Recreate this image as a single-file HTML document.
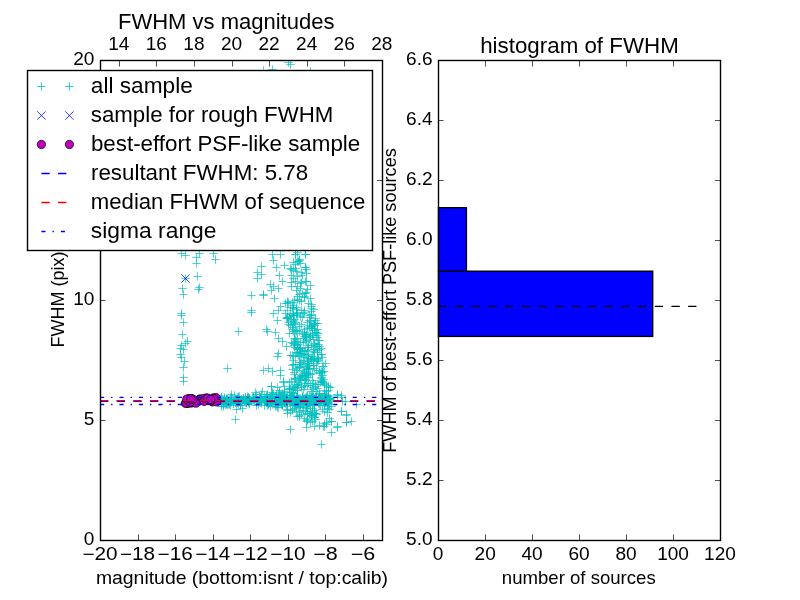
<!DOCTYPE html><html><head><meta charset="utf-8"><style>html,body{margin:0;padding:0;background:#fff;overflow:hidden}svg{display:block;will-change:transform}</style></head><body><svg width="800" height="600" viewBox="0 0 800 600"><rect x="0" y="0" width="800" height="600" fill="#fff"/>
<defs><clipPath id="c1"><rect x="100" y="60" width="282.5" height="480.5"/></clipPath><path id="pl" d="M-4.17 0H4.17M0 -4.17V4.17"/><path id="xm" d="M-4.17 -4.17L4.17 4.17M-4.17 4.17L4.17 -4.17"/></defs>
<g clip-path="url(#c1)">
<g stroke="#00bfbf" stroke-width="0.69" fill="none">
<use href="#pl" x="288.5" y="62.5"/>
<use href="#pl" x="290.5" y="64.5"/>
<use href="#pl" x="272.5" y="69.5"/>
<use href="#pl" x="263.5" y="70.5"/>
<use href="#pl" x="310.5" y="71.5"/>
<use href="#pl" x="181.5" y="253.5"/>
<use href="#pl" x="185.5" y="255.5"/>
<use href="#pl" x="199.5" y="253.5"/>
<use href="#pl" x="196.5" y="257.5"/>
<use href="#pl" x="196.5" y="263.5"/>
<use href="#pl" x="213.5" y="253.5"/>
<use href="#pl" x="215.5" y="259.5"/>
<use href="#pl" x="185.5" y="278.5"/>
<use href="#pl" x="197.5" y="276.5"/>
<use href="#pl" x="182.5" y="288.5"/>
<use href="#pl" x="183.5" y="294.5"/>
<use href="#pl" x="199.5" y="287.5"/>
<use href="#pl" x="198.5" y="289.5"/>
<use href="#pl" x="181.5" y="313.5"/>
<use href="#pl" x="181.5" y="315.5"/>
<use href="#pl" x="183.5" y="322.5"/>
<use href="#pl" x="182.5" y="334.5"/>
<use href="#pl" x="187.5" y="341.5"/>
<use href="#pl" x="185.5" y="343.5"/>
<use href="#pl" x="181.5" y="345.5"/>
<use href="#pl" x="180.5" y="348.5"/>
<use href="#pl" x="183.5" y="349.5"/>
<use href="#pl" x="180.5" y="354.5"/>
<use href="#pl" x="181.5" y="357.5"/>
<use href="#pl" x="184.5" y="361.5"/>
<use href="#pl" x="183.5" y="367.5"/>
<use href="#pl" x="183.5" y="377.5"/>
<use href="#pl" x="183.5" y="381.5"/>
<use href="#pl" x="238.5" y="331.5"/>
<use href="#pl" x="227.5" y="368.5"/>
<use href="#pl" x="242.5" y="408.5"/>
<use href="#pl" x="235.5" y="419.5"/>
<use href="#pl" x="251.5" y="295.5"/>
<use href="#pl" x="251.5" y="310.5"/>
<use href="#pl" x="251.5" y="312.5"/>
<use href="#pl" x="263.5" y="294.5"/>
<use href="#pl" x="263.5" y="295.5"/>
<use href="#pl" x="274.5" y="298.5"/>
<use href="#pl" x="261.5" y="266.5"/>
<use href="#pl" x="257.5" y="272.5"/>
<use href="#pl" x="261.5" y="274.5"/>
<use href="#pl" x="257.5" y="278.5"/>
<use href="#pl" x="272.5" y="254.5"/>
<use href="#pl" x="280.5" y="254.5"/>
<use href="#pl" x="273.5" y="260.5"/>
<use href="#pl" x="276.5" y="267.5"/>
<use href="#pl" x="284.5" y="265.5"/>
<use href="#pl" x="270.5" y="284.5"/>
<use href="#pl" x="273.5" y="286.5"/>
<use href="#pl" x="271.5" y="290.5"/>
<use href="#pl" x="279.5" y="275.5"/>
<use href="#pl" x="282.5" y="281.5"/>
<use href="#pl" x="278.5" y="288.5"/>
<use href="#pl" x="295.5" y="254.5"/>
<use href="#pl" x="305.5" y="254.5"/>
<use href="#pl" x="298.5" y="261.5"/>
<use href="#pl" x="305.5" y="267.5"/>
<use href="#pl" x="290.5" y="268.5"/>
<use href="#pl" x="295.5" y="254.5"/>
<use href="#pl" x="297.5" y="252.5"/>
<use href="#pl" x="305.5" y="254.5"/>
<use href="#pl" x="297.5" y="261.5"/>
<use href="#pl" x="300.5" y="263.5"/>
<use href="#pl" x="305.5" y="267.5"/>
<use href="#pl" x="295.5" y="268.5"/>
<use href="#pl" x="291.5" y="269.5"/>
<use href="#pl" x="296.5" y="271.5"/>
<use href="#pl" x="306.5" y="273.5"/>
<use href="#pl" x="302.5" y="275.5"/>
<use href="#pl" x="297.5" y="276.5"/>
<use href="#pl" x="293.5" y="278.5"/>
<use href="#pl" x="295.5" y="281.5"/>
<use href="#pl" x="305.5" y="281.5"/>
<use href="#pl" x="291.5" y="282.5"/>
<use href="#pl" x="300.5" y="283.5"/>
<use href="#pl" x="291.5" y="286.5"/>
<use href="#pl" x="297.5" y="286.5"/>
<use href="#pl" x="307.5" y="289.5"/>
<use href="#pl" x="296.5" y="290.5"/>
<use href="#pl" x="302.5" y="293.5"/>
<use href="#pl" x="306.5" y="292.5"/>
<use href="#pl" x="297.5" y="296.5"/>
<use href="#pl" x="310.5" y="298.5"/>
<use href="#pl" x="288.5" y="302.5"/>
<use href="#pl" x="294.5" y="300.5"/>
<use href="#pl" x="301.5" y="301.5"/>
<use href="#pl" x="308.5" y="303.5"/>
<use href="#pl" x="311.5" y="308.5"/>
<use href="#pl" x="280.5" y="306.5"/>
<use href="#pl" x="285.5" y="303.5"/>
<use href="#pl" x="273.5" y="313.5"/>
<use href="#pl" x="278.5" y="310.5"/>
<use href="#pl" x="285.5" y="313.5"/>
<use href="#pl" x="296.5" y="307.5"/>
<use href="#pl" x="301.5" y="310.5"/>
<use href="#pl" x="293.5" y="315.5"/>
<use href="#pl" x="303.5" y="313.5"/>
<use href="#pl" x="309.5" y="315.5"/>
<use href="#pl" x="287.5" y="317.5"/>
<use href="#pl" x="266.5" y="329.5"/>
<use href="#pl" x="267.5" y="331.5"/>
<use href="#pl" x="275.5" y="332.5"/>
<use href="#pl" x="277.5" y="320.5"/>
<use href="#pl" x="278.5" y="338.5"/>
<use href="#pl" x="282.5" y="341.5"/>
<use href="#pl" x="286.5" y="346.5"/>
<use href="#pl" x="278.5" y="353.5"/>
<use href="#pl" x="277.5" y="356.5"/>
<use href="#pl" x="263.5" y="370.5"/>
<use href="#pl" x="268.5" y="368.5"/>
<use href="#pl" x="272.5" y="371.5"/>
<use href="#pl" x="280.5" y="370.5"/>
<use href="#pl" x="280.5" y="375.5"/>
<use href="#pl" x="283.5" y="381.5"/>
<use href="#pl" x="271.5" y="386.5"/>
<use href="#pl" x="277.5" y="387.5"/>
<use href="#pl" x="290.5" y="355.5"/>
<use href="#pl" x="292.5" y="365.5"/>
<use href="#pl" x="288.5" y="324.5"/>
<use href="#pl" x="286.5" y="318.5"/>
<use href="#pl" x="317.5" y="323.5"/>
<use href="#pl" x="318.5" y="333.5"/>
<use href="#pl" x="321.5" y="348.5"/>
<use href="#pl" x="325.5" y="363.5"/>
<use href="#pl" x="323.5" y="366.5"/>
<use href="#pl" x="328.5" y="386.5"/>
<use href="#pl" x="321.5" y="380.5"/>
<use href="#pl" x="290.5" y="429.5"/>
<use href="#pl" x="306.5" y="427.5"/>
<use href="#pl" x="321.5" y="444.5"/>
<use href="#pl" x="331.5" y="432.5"/>
<use href="#pl" x="337.5" y="427.5"/>
<use href="#pl" x="331.5" y="421.5"/>
<use href="#pl" x="346.5" y="422.5"/>
<use href="#pl" x="341.5" y="411.5"/>
<use href="#pl" x="346.5" y="415.5"/>
<use href="#pl" x="341.5" y="395.5"/>
<use href="#pl" x="345.5" y="401.5"/>
<use href="#pl" x="337.5" y="394.5"/>
<use href="#pl" x="328.5" y="387.5"/>
<use href="#pl" x="283.5" y="382.5"/>
<use href="#pl" x="271.5" y="386.5"/>
<use href="#pl" x="255.5" y="392.5"/>
<use href="#pl" x="262.5" y="391.5"/>
<use href="#pl" x="287.5" y="413.5"/>
<use href="#pl" x="312.5" y="421.5"/>
<use href="#pl" x="323.5" y="426.5"/>
<use href="#pl" x="326.5" y="422.5"/>
<use href="#pl" x="330.5" y="387.5"/>
<use href="#pl" x="337.5" y="395.5"/>
<use href="#pl" x="341.5" y="397.5"/>
<use href="#pl" x="342.5" y="401.5"/>
<use href="#pl" x="356.5" y="404.5"/>
<use href="#pl" x="341.5" y="411.5"/>
<use href="#pl" x="346.5" y="414.5"/>
<use href="#pl" x="346.5" y="422.5"/>
<use href="#pl" x="351.5" y="421.5"/>
<use href="#pl" x="337.5" y="426.5"/>
<use href="#pl" x="331.5" y="421.5"/>
<use href="#pl" x="324.5" y="426.5"/>
<use href="#pl" x="299.5" y="259.5"/>
<use href="#pl" x="299.5" y="260.5"/>
<use href="#pl" x="293.5" y="262.5"/>
<use href="#pl" x="295.5" y="264.5"/>
<use href="#pl" x="306.5" y="269.5"/>
<use href="#pl" x="293.5" y="270.5"/>
<use href="#pl" x="301.5" y="272.5"/>
<use href="#pl" x="291.5" y="275.5"/>
<use href="#pl" x="306.5" y="281.5"/>
<use href="#pl" x="301.5" y="282.5"/>
<use href="#pl" x="310.5" y="285.5"/>
<use href="#pl" x="300.5" y="288.5"/>
<use href="#pl" x="305.5" y="293.5"/>
<use href="#pl" x="299.5" y="294.5"/>
<use href="#pl" x="304.5" y="296.5"/>
<use href="#pl" x="304.5" y="297.5"/>
<use href="#pl" x="297.5" y="299.5"/>
<use href="#pl" x="299.5" y="300.5"/>
<use href="#pl" x="287.5" y="301.5"/>
<use href="#pl" x="292.5" y="302.5"/>
<use href="#pl" x="287.5" y="303.5"/>
<use href="#pl" x="311.5" y="304.5"/>
<use href="#pl" x="293.5" y="305.5"/>
<use href="#pl" x="311.5" y="306.5"/>
<use href="#pl" x="290.5" y="307.5"/>
<use href="#pl" x="292.5" y="307.5"/>
<use href="#pl" x="293.5" y="308.5"/>
<use href="#pl" x="296.5" y="309.5"/>
<use href="#pl" x="313.5" y="309.5"/>
<use href="#pl" x="304.5" y="310.5"/>
<use href="#pl" x="287.5" y="310.5"/>
<use href="#pl" x="311.5" y="311.5"/>
<use href="#pl" x="297.5" y="312.5"/>
<use href="#pl" x="304.5" y="312.5"/>
<use href="#pl" x="292.5" y="313.5"/>
<use href="#pl" x="296.5" y="313.5"/>
<use href="#pl" x="290.5" y="314.5"/>
<use href="#pl" x="296.5" y="314.5"/>
<use href="#pl" x="311.5" y="314.5"/>
<use href="#pl" x="293.5" y="315.5"/>
<use href="#pl" x="297.5" y="315.5"/>
<use href="#pl" x="311.5" y="315.5"/>
<use href="#pl" x="300.5" y="316.5"/>
<use href="#pl" x="289.5" y="316.5"/>
<use href="#pl" x="310.5" y="317.5"/>
<use href="#pl" x="287.5" y="317.5"/>
<use href="#pl" x="302.5" y="317.5"/>
<use href="#pl" x="287.5" y="318.5"/>
<use href="#pl" x="315.5" y="318.5"/>
<use href="#pl" x="294.5" y="319.5"/>
<use href="#pl" x="291.5" y="319.5"/>
<use href="#pl" x="309.5" y="320.5"/>
<use href="#pl" x="293.5" y="320.5"/>
<use href="#pl" x="315.5" y="320.5"/>
<use href="#pl" x="310.5" y="321.5"/>
<use href="#pl" x="293.5" y="321.5"/>
<use href="#pl" x="288.5" y="322.5"/>
<use href="#pl" x="295.5" y="322.5"/>
<use href="#pl" x="307.5" y="322.5"/>
<use href="#pl" x="314.5" y="323.5"/>
<use href="#pl" x="315.5" y="323.5"/>
<use href="#pl" x="294.5" y="323.5"/>
<use href="#pl" x="293.5" y="324.5"/>
<use href="#pl" x="313.5" y="324.5"/>
<use href="#pl" x="301.5" y="324.5"/>
<use href="#pl" x="290.5" y="325.5"/>
<use href="#pl" x="314.5" y="325.5"/>
<use href="#pl" x="309.5" y="325.5"/>
<use href="#pl" x="311.5" y="326.5"/>
<use href="#pl" x="311.5" y="326.5"/>
<use href="#pl" x="299.5" y="326.5"/>
<use href="#pl" x="309.5" y="327.5"/>
<use href="#pl" x="292.5" y="327.5"/>
<use href="#pl" x="312.5" y="328.5"/>
<use href="#pl" x="312.5" y="328.5"/>
<use href="#pl" x="307.5" y="328.5"/>
<use href="#pl" x="292.5" y="329.5"/>
<use href="#pl" x="317.5" y="329.5"/>
<use href="#pl" x="304.5" y="329.5"/>
<use href="#pl" x="314.5" y="330.5"/>
<use href="#pl" x="295.5" y="330.5"/>
<use href="#pl" x="297.5" y="330.5"/>
<use href="#pl" x="296.5" y="331.5"/>
<use href="#pl" x="293.5" y="331.5"/>
<use href="#pl" x="299.5" y="331.5"/>
<use href="#pl" x="315.5" y="332.5"/>
<use href="#pl" x="316.5" y="332.5"/>
<use href="#pl" x="304.5" y="332.5"/>
<use href="#pl" x="302.5" y="333.5"/>
<use href="#pl" x="289.5" y="333.5"/>
<use href="#pl" x="294.5" y="333.5"/>
<use href="#pl" x="310.5" y="333.5"/>
<use href="#pl" x="304.5" y="334.5"/>
<use href="#pl" x="312.5" y="334.5"/>
<use href="#pl" x="306.5" y="334.5"/>
<use href="#pl" x="312.5" y="335.5"/>
<use href="#pl" x="306.5" y="335.5"/>
<use href="#pl" x="316.5" y="335.5"/>
<use href="#pl" x="304.5" y="336.5"/>
<use href="#pl" x="310.5" y="336.5"/>
<use href="#pl" x="305.5" y="336.5"/>
<use href="#pl" x="310.5" y="337.5"/>
<use href="#pl" x="317.5" y="337.5"/>
<use href="#pl" x="306.5" y="337.5"/>
<use href="#pl" x="294.5" y="338.5"/>
<use href="#pl" x="303.5" y="338.5"/>
<use href="#pl" x="297.5" y="338.5"/>
<use href="#pl" x="313.5" y="339.5"/>
<use href="#pl" x="295.5" y="339.5"/>
<use href="#pl" x="309.5" y="339.5"/>
<use href="#pl" x="319.5" y="340.5"/>
<use href="#pl" x="318.5" y="340.5"/>
<use href="#pl" x="305.5" y="340.5"/>
<use href="#pl" x="295.5" y="341.5"/>
<use href="#pl" x="306.5" y="341.5"/>
<use href="#pl" x="296.5" y="341.5"/>
<use href="#pl" x="291.5" y="342.5"/>
<use href="#pl" x="303.5" y="342.5"/>
<use href="#pl" x="300.5" y="342.5"/>
<use href="#pl" x="293.5" y="343.5"/>
<use href="#pl" x="314.5" y="343.5"/>
<use href="#pl" x="294.5" y="343.5"/>
<use href="#pl" x="314.5" y="344.5"/>
<use href="#pl" x="295.5" y="344.5"/>
<use href="#pl" x="318.5" y="344.5"/>
<use href="#pl" x="298.5" y="344.5"/>
<use href="#pl" x="308.5" y="345.5"/>
<use href="#pl" x="294.5" y="345.5"/>
<use href="#pl" x="311.5" y="345.5"/>
<use href="#pl" x="319.5" y="346.5"/>
<use href="#pl" x="315.5" y="346.5"/>
<use href="#pl" x="316.5" y="346.5"/>
<use href="#pl" x="317.5" y="346.5"/>
<use href="#pl" x="308.5" y="347.5"/>
<use href="#pl" x="299.5" y="347.5"/>
<use href="#pl" x="307.5" y="347.5"/>
<use href="#pl" x="294.5" y="347.5"/>
<use href="#pl" x="297.5" y="348.5"/>
<use href="#pl" x="300.5" y="348.5"/>
<use href="#pl" x="300.5" y="348.5"/>
<use href="#pl" x="297.5" y="348.5"/>
<use href="#pl" x="299.5" y="349.5"/>
<use href="#pl" x="313.5" y="349.5"/>
<use href="#pl" x="297.5" y="349.5"/>
<use href="#pl" x="319.5" y="349.5"/>
<use href="#pl" x="305.5" y="350.5"/>
<use href="#pl" x="317.5" y="350.5"/>
<use href="#pl" x="307.5" y="350.5"/>
<use href="#pl" x="302.5" y="351.5"/>
<use href="#pl" x="313.5" y="351.5"/>
<use href="#pl" x="304.5" y="351.5"/>
<use href="#pl" x="296.5" y="352.5"/>
<use href="#pl" x="314.5" y="352.5"/>
<use href="#pl" x="297.5" y="352.5"/>
<use href="#pl" x="317.5" y="352.5"/>
<use href="#pl" x="300.5" y="353.5"/>
<use href="#pl" x="301.5" y="353.5"/>
<use href="#pl" x="297.5" y="353.5"/>
<use href="#pl" x="321.5" y="354.5"/>
<use href="#pl" x="308.5" y="354.5"/>
<use href="#pl" x="321.5" y="354.5"/>
<use href="#pl" x="303.5" y="354.5"/>
<use href="#pl" x="306.5" y="355.5"/>
<use href="#pl" x="298.5" y="355.5"/>
<use href="#pl" x="292.5" y="355.5"/>
<use href="#pl" x="295.5" y="355.5"/>
<use href="#pl" x="293.5" y="356.5"/>
<use href="#pl" x="299.5" y="356.5"/>
<use href="#pl" x="308.5" y="356.5"/>
<use href="#pl" x="312.5" y="356.5"/>
<use href="#pl" x="304.5" y="357.5"/>
<use href="#pl" x="322.5" y="357.5"/>
<use href="#pl" x="314.5" y="357.5"/>
<use href="#pl" x="318.5" y="358.5"/>
<use href="#pl" x="311.5" y="358.5"/>
<use href="#pl" x="317.5" y="358.5"/>
<use href="#pl" x="308.5" y="358.5"/>
<use href="#pl" x="317.5" y="359.5"/>
<use href="#pl" x="310.5" y="359.5"/>
<use href="#pl" x="313.5" y="359.5"/>
<use href="#pl" x="293.5" y="360.5"/>
<use href="#pl" x="303.5" y="360.5"/>
<use href="#pl" x="318.5" y="360.5"/>
<use href="#pl" x="311.5" y="360.5"/>
<use href="#pl" x="307.5" y="361.5"/>
<use href="#pl" x="317.5" y="361.5"/>
<use href="#pl" x="308.5" y="361.5"/>
<use href="#pl" x="313.5" y="361.5"/>
<use href="#pl" x="300.5" y="362.5"/>
<use href="#pl" x="301.5" y="362.5"/>
<use href="#pl" x="299.5" y="362.5"/>
<use href="#pl" x="308.5" y="363.5"/>
<use href="#pl" x="307.5" y="363.5"/>
<use href="#pl" x="316.5" y="363.5"/>
<use href="#pl" x="295.5" y="364.5"/>
<use href="#pl" x="300.5" y="364.5"/>
<use href="#pl" x="302.5" y="364.5"/>
<use href="#pl" x="293.5" y="364.5"/>
<use href="#pl" x="313.5" y="365.5"/>
<use href="#pl" x="313.5" y="365.5"/>
<use href="#pl" x="309.5" y="365.5"/>
<use href="#pl" x="307.5" y="365.5"/>
<use href="#pl" x="299.5" y="366.5"/>
<use href="#pl" x="322.5" y="366.5"/>
<use href="#pl" x="307.5" y="366.5"/>
<use href="#pl" x="306.5" y="367.5"/>
<use href="#pl" x="299.5" y="367.5"/>
<use href="#pl" x="299.5" y="367.5"/>
<use href="#pl" x="309.5" y="368.5"/>
<use href="#pl" x="297.5" y="368.5"/>
<use href="#pl" x="308.5" y="368.5"/>
<use href="#pl" x="314.5" y="368.5"/>
<use href="#pl" x="308.5" y="369.5"/>
<use href="#pl" x="292.5" y="369.5"/>
<use href="#pl" x="306.5" y="369.5"/>
<use href="#pl" x="303.5" y="370.5"/>
<use href="#pl" x="319.5" y="370.5"/>
<use href="#pl" x="316.5" y="370.5"/>
<use href="#pl" x="296.5" y="370.5"/>
<use href="#pl" x="321.5" y="371.5"/>
<use href="#pl" x="304.5" y="371.5"/>
<use href="#pl" x="324.5" y="371.5"/>
<use href="#pl" x="306.5" y="372.5"/>
<use href="#pl" x="294.5" y="372.5"/>
<use href="#pl" x="319.5" y="372.5"/>
<use href="#pl" x="322.5" y="372.5"/>
<use href="#pl" x="308.5" y="373.5"/>
<use href="#pl" x="304.5" y="373.5"/>
<use href="#pl" x="320.5" y="373.5"/>
<use href="#pl" x="312.5" y="373.5"/>
<use href="#pl" x="310.5" y="374.5"/>
<use href="#pl" x="294.5" y="374.5"/>
<use href="#pl" x="306.5" y="374.5"/>
<use href="#pl" x="301.5" y="375.5"/>
<use href="#pl" x="322.5" y="375.5"/>
<use href="#pl" x="307.5" y="375.5"/>
<use href="#pl" x="302.5" y="375.5"/>
<use href="#pl" x="300.5" y="376.5"/>
<use href="#pl" x="302.5" y="376.5"/>
<use href="#pl" x="305.5" y="376.5"/>
<use href="#pl" x="299.5" y="377.5"/>
<use href="#pl" x="308.5" y="377.5"/>
<use href="#pl" x="321.5" y="377.5"/>
<use href="#pl" x="306.5" y="377.5"/>
<use href="#pl" x="295.5" y="378.5"/>
<use href="#pl" x="295.5" y="378.5"/>
<use href="#pl" x="300.5" y="378.5"/>
<use href="#pl" x="321.5" y="378.5"/>
<use href="#pl" x="305.5" y="379.5"/>
<use href="#pl" x="304.5" y="379.5"/>
<use href="#pl" x="294.5" y="379.5"/>
<use href="#pl" x="323.5" y="379.5"/>
<use href="#pl" x="312.5" y="380.5"/>
<use href="#pl" x="299.5" y="380.5"/>
<use href="#pl" x="300.5" y="380.5"/>
<use href="#pl" x="306.5" y="380.5"/>
<use href="#pl" x="321.5" y="381.5"/>
<use href="#pl" x="291.5" y="381.5"/>
<use href="#pl" x="322.5" y="381.5"/>
<use href="#pl" x="289.5" y="382.5"/>
<use href="#pl" x="323.5" y="382.5"/>
<use href="#pl" x="320.5" y="382.5"/>
<use href="#pl" x="298.5" y="382.5"/>
<use href="#pl" x="308.5" y="383.5"/>
<use href="#pl" x="324.5" y="383.5"/>
<use href="#pl" x="313.5" y="383.5"/>
<use href="#pl" x="305.5" y="383.5"/>
<use href="#pl" x="318.5" y="384.5"/>
<use href="#pl" x="324.5" y="384.5"/>
<use href="#pl" x="298.5" y="384.5"/>
<use href="#pl" x="296.5" y="384.5"/>
<use href="#pl" x="315.5" y="384.5"/>
<use href="#pl" x="307.5" y="385.5"/>
<use href="#pl" x="301.5" y="385.5"/>
<use href="#pl" x="310.5" y="385.5"/>
<use href="#pl" x="297.5" y="385.5"/>
<use href="#pl" x="326.5" y="385.5"/>
<use href="#pl" x="304.5" y="386.5"/>
<use href="#pl" x="294.5" y="386.5"/>
<use href="#pl" x="315.5" y="386.5"/>
<use href="#pl" x="284.5" y="386.5"/>
<use href="#pl" x="301.5" y="387.5"/>
<use href="#pl" x="313.5" y="387.5"/>
<use href="#pl" x="292.5" y="387.5"/>
<use href="#pl" x="297.5" y="387.5"/>
<use href="#pl" x="289.5" y="388.5"/>
<use href="#pl" x="317.5" y="388.5"/>
<use href="#pl" x="290.5" y="388.5"/>
<use href="#pl" x="295.5" y="388.5"/>
<use href="#pl" x="289.5" y="389.5"/>
<use href="#pl" x="293.5" y="389.5"/>
<use href="#pl" x="303.5" y="389.5"/>
<use href="#pl" x="289.5" y="389.5"/>
<use href="#pl" x="312.5" y="389.5"/>
<use href="#pl" x="297.5" y="390.5"/>
<use href="#pl" x="328.5" y="390.5"/>
<use href="#pl" x="279.5" y="390.5"/>
<use href="#pl" x="297.5" y="390.5"/>
<use href="#pl" x="324.5" y="390.5"/>
<use href="#pl" x="326.5" y="391.5"/>
<use href="#pl" x="284.5" y="391.5"/>
<use href="#pl" x="316.5" y="391.5"/>
<use href="#pl" x="311.5" y="391.5"/>
<use href="#pl" x="291.5" y="392.5"/>
<use href="#pl" x="272.5" y="392.5"/>
<use href="#pl" x="292.5" y="392.5"/>
<use href="#pl" x="279.5" y="392.5"/>
<use href="#pl" x="284.5" y="392.5"/>
<use href="#pl" x="319.5" y="393.5"/>
<use href="#pl" x="273.5" y="393.5"/>
<use href="#pl" x="293.5" y="393.5"/>
<use href="#pl" x="282.5" y="393.5"/>
<use href="#pl" x="324.5" y="393.5"/>
<use href="#pl" x="319.5" y="394.5"/>
<use href="#pl" x="271.5" y="394.5"/>
<use href="#pl" x="272.5" y="394.5"/>
<use href="#pl" x="284.5" y="394.5"/>
<use href="#pl" x="324.5" y="394.5"/>
<use href="#pl" x="328.5" y="395.5"/>
<use href="#pl" x="283.5" y="395.5"/>
<use href="#pl" x="287.5" y="395.5"/>
<use href="#pl" x="267.5" y="395.5"/>
<use href="#pl" x="325.5" y="395.5"/>
<use href="#pl" x="266.5" y="396.5"/>
<use href="#pl" x="296.5" y="396.5"/>
<use href="#pl" x="328.5" y="396.5"/>
<use href="#pl" x="281.5" y="396.5"/>
<use href="#pl" x="297.5" y="396.5"/>
<use href="#pl" x="318.5" y="397.5"/>
<use href="#pl" x="319.5" y="397.5"/>
<use href="#pl" x="305.5" y="397.5"/>
<use href="#pl" x="286.5" y="397.5"/>
<use href="#pl" x="316.5" y="397.5"/>
<use href="#pl" x="278.5" y="397.5"/>
<use href="#pl" x="270.5" y="398.5"/>
<use href="#pl" x="302.5" y="398.5"/>
<use href="#pl" x="329.5" y="398.5"/>
<use href="#pl" x="330.5" y="398.5"/>
<use href="#pl" x="271.5" y="398.5"/>
<use href="#pl" x="312.5" y="399.5"/>
<use href="#pl" x="281.5" y="399.5"/>
<use href="#pl" x="306.5" y="399.5"/>
<use href="#pl" x="314.5" y="399.5"/>
<use href="#pl" x="309.5" y="399.5"/>
<use href="#pl" x="286.5" y="400.5"/>
<use href="#pl" x="291.5" y="400.5"/>
<use href="#pl" x="280.5" y="400.5"/>
<use href="#pl" x="283.5" y="400.5"/>
<use href="#pl" x="323.5" y="400.5"/>
<use href="#pl" x="293.5" y="401.5"/>
<use href="#pl" x="300.5" y="401.5"/>
<use href="#pl" x="319.5" y="401.5"/>
<use href="#pl" x="330.5" y="401.5"/>
<use href="#pl" x="298.5" y="401.5"/>
<use href="#pl" x="325.5" y="402.5"/>
<use href="#pl" x="287.5" y="402.5"/>
<use href="#pl" x="280.5" y="402.5"/>
<use href="#pl" x="305.5" y="402.5"/>
<use href="#pl" x="291.5" y="402.5"/>
<use href="#pl" x="285.5" y="403.5"/>
<use href="#pl" x="327.5" y="403.5"/>
<use href="#pl" x="306.5" y="403.5"/>
<use href="#pl" x="282.5" y="403.5"/>
<use href="#pl" x="278.5" y="403.5"/>
<use href="#pl" x="306.5" y="404.5"/>
<use href="#pl" x="282.5" y="404.5"/>
<use href="#pl" x="290.5" y="404.5"/>
<use href="#pl" x="281.5" y="404.5"/>
<use href="#pl" x="282.5" y="404.5"/>
<use href="#pl" x="276.5" y="405.5"/>
<use href="#pl" x="295.5" y="405.5"/>
<use href="#pl" x="310.5" y="405.5"/>
<use href="#pl" x="282.5" y="405.5"/>
<use href="#pl" x="296.5" y="405.5"/>
<use href="#pl" x="328.5" y="406.5"/>
<use href="#pl" x="306.5" y="406.5"/>
<use href="#pl" x="298.5" y="406.5"/>
<use href="#pl" x="331.5" y="406.5"/>
<use href="#pl" x="286.5" y="406.5"/>
<use href="#pl" x="277.5" y="407.5"/>
<use href="#pl" x="300.5" y="407.5"/>
<use href="#pl" x="299.5" y="407.5"/>
<use href="#pl" x="302.5" y="407.5"/>
<use href="#pl" x="278.5" y="407.5"/>
<use href="#pl" x="327.5" y="408.5"/>
<use href="#pl" x="312.5" y="408.5"/>
<use href="#pl" x="306.5" y="408.5"/>
<use href="#pl" x="294.5" y="408.5"/>
<use href="#pl" x="287.5" y="409.5"/>
<use href="#pl" x="322.5" y="409.5"/>
<use href="#pl" x="292.5" y="409.5"/>
<use href="#pl" x="329.5" y="409.5"/>
<use href="#pl" x="287.5" y="410.5"/>
<use href="#pl" x="303.5" y="410.5"/>
<use href="#pl" x="314.5" y="410.5"/>
<use href="#pl" x="292.5" y="410.5"/>
<use href="#pl" x="305.5" y="411.5"/>
<use href="#pl" x="324.5" y="411.5"/>
<use href="#pl" x="296.5" y="411.5"/>
<use href="#pl" x="310.5" y="411.5"/>
<use href="#pl" x="299.5" y="412.5"/>
<use href="#pl" x="327.5" y="412.5"/>
<use href="#pl" x="312.5" y="412.5"/>
<use href="#pl" x="290.5" y="412.5"/>
<use href="#pl" x="315.5" y="413.5"/>
<use href="#pl" x="316.5" y="413.5"/>
<use href="#pl" x="307.5" y="413.5"/>
<use href="#pl" x="307.5" y="413.5"/>
<use href="#pl" x="309.5" y="414.5"/>
<use href="#pl" x="316.5" y="414.5"/>
<use href="#pl" x="301.5" y="414.5"/>
<use href="#pl" x="311.5" y="415.5"/>
<use href="#pl" x="311.5" y="415.5"/>
<use href="#pl" x="299.5" y="415.5"/>
<use href="#pl" x="311.5" y="416.5"/>
<use href="#pl" x="297.5" y="416.5"/>
<use href="#pl" x="299.5" y="416.5"/>
<use href="#pl" x="314.5" y="417.5"/>
<use href="#pl" x="314.5" y="417.5"/>
<use href="#pl" x="304.5" y="418.5"/>
<use href="#pl" x="329.5" y="418.5"/>
<use href="#pl" x="307.5" y="419.5"/>
<use href="#pl" x="315.5" y="419.5"/>
<use href="#pl" x="307.5" y="420.5"/>
<use href="#pl" x="306.5" y="421.5"/>
<use href="#pl" x="310.5" y="422.5"/>
<use href="#pl" x="324.5" y="423.5"/>
<use href="#pl" x="326.5" y="424.5"/>
<use href="#pl" x="319.5" y="425.5"/>
<use href="#pl" x="314.5" y="426.5"/>
<use href="#pl" x="238.5" y="400.5"/>
<use href="#pl" x="278.5" y="399.5"/>
<use href="#pl" x="290.5" y="397.5"/>
<use href="#pl" x="281.5" y="404.5"/>
<use href="#pl" x="284.5" y="401.5"/>
<use href="#pl" x="330.5" y="399.5"/>
<use href="#pl" x="289.5" y="396.5"/>
<use href="#pl" x="249.5" y="403.5"/>
<use href="#pl" x="329.5" y="398.5"/>
<use href="#pl" x="304.5" y="399.5"/>
<use href="#pl" x="269.5" y="402.5"/>
<use href="#pl" x="225.5" y="404.5"/>
<use href="#pl" x="311.5" y="400.5"/>
<use href="#pl" x="329.5" y="404.5"/>
<use href="#pl" x="285.5" y="399.5"/>
<use href="#pl" x="220.5" y="398.5"/>
<use href="#pl" x="223.5" y="402.5"/>
<use href="#pl" x="268.5" y="403.5"/>
<use href="#pl" x="276.5" y="401.5"/>
<use href="#pl" x="245.5" y="399.5"/>
<use href="#pl" x="292.5" y="400.5"/>
<use href="#pl" x="259.5" y="400.5"/>
<use href="#pl" x="231.5" y="399.5"/>
<use href="#pl" x="284.5" y="402.5"/>
<use href="#pl" x="285.5" y="401.5"/>
<use href="#pl" x="272.5" y="404.5"/>
<use href="#pl" x="235.5" y="402.5"/>
<use href="#pl" x="236.5" y="399.5"/>
<use href="#pl" x="230.5" y="397.5"/>
<use href="#pl" x="306.5" y="396.5"/>
<use href="#pl" x="264.5" y="400.5"/>
<use href="#pl" x="291.5" y="401.5"/>
<use href="#pl" x="282.5" y="398.5"/>
<use href="#pl" x="269.5" y="403.5"/>
<use href="#pl" x="324.5" y="400.5"/>
<use href="#pl" x="320.5" y="398.5"/>
<use href="#pl" x="224.5" y="397.5"/>
<use href="#pl" x="246.5" y="400.5"/>
<use href="#pl" x="226.5" y="400.5"/>
<use href="#pl" x="281.5" y="400.5"/>
<use href="#pl" x="324.5" y="401.5"/>
<use href="#pl" x="287.5" y="402.5"/>
<use href="#pl" x="276.5" y="397.5"/>
<use href="#pl" x="239.5" y="396.5"/>
<use href="#pl" x="254.5" y="400.5"/>
<use href="#pl" x="318.5" y="401.5"/>
<use href="#pl" x="306.5" y="400.5"/>
<use href="#pl" x="313.5" y="400.5"/>
<use href="#pl" x="302.5" y="396.5"/>
<use href="#pl" x="270.5" y="401.5"/>
<use href="#pl" x="245.5" y="402.5"/>
<use href="#pl" x="224.5" y="401.5"/>
<use href="#pl" x="257.5" y="400.5"/>
<use href="#pl" x="313.5" y="396.5"/>
<use href="#pl" x="299.5" y="400.5"/>
<use href="#pl" x="268.5" y="404.5"/>
<use href="#pl" x="307.5" y="398.5"/>
<use href="#pl" x="291.5" y="400.5"/>
<use href="#pl" x="327.5" y="401.5"/>
<use href="#pl" x="221.5" y="406.5"/>
<use href="#pl" x="248.5" y="401.5"/>
<use href="#pl" x="324.5" y="405.5"/>
<use href="#pl" x="302.5" y="398.5"/>
<use href="#pl" x="256.5" y="405.5"/>
<use href="#pl" x="246.5" y="403.5"/>
<use href="#pl" x="296.5" y="398.5"/>
<use href="#pl" x="293.5" y="403.5"/>
<use href="#pl" x="313.5" y="400.5"/>
<use href="#pl" x="297.5" y="402.5"/>
<use href="#pl" x="300.5" y="398.5"/>
<use href="#pl" x="283.5" y="399.5"/>
<use href="#pl" x="289.5" y="402.5"/>
<use href="#pl" x="228.5" y="401.5"/>
<use href="#pl" x="223.5" y="399.5"/>
<use href="#pl" x="231.5" y="402.5"/>
<use href="#pl" x="235.5" y="399.5"/>
<use href="#pl" x="223.5" y="404.5"/>
<use href="#pl" x="290.5" y="401.5"/>
<use href="#pl" x="297.5" y="400.5"/>
<use href="#pl" x="285.5" y="399.5"/>
<use href="#pl" x="260.5" y="402.5"/>
<use href="#pl" x="318.5" y="396.5"/>
<use href="#pl" x="227.5" y="404.5"/>
<use href="#pl" x="324.5" y="396.5"/>
<use href="#pl" x="231.5" y="401.5"/>
<use href="#pl" x="223.5" y="401.5"/>
<use href="#pl" x="314.5" y="402.5"/>
<use href="#pl" x="311.5" y="397.5"/>
<use href="#pl" x="290.5" y="400.5"/>
<use href="#pl" x="230.5" y="401.5"/>
<use href="#pl" x="304.5" y="401.5"/>
<use href="#pl" x="267.5" y="402.5"/>
<use href="#pl" x="222.5" y="400.5"/>
<use href="#pl" x="299.5" y="402.5"/>
<use href="#pl" x="260.5" y="397.5"/>
<use href="#pl" x="275.5" y="406.5"/>
<use href="#pl" x="314.5" y="400.5"/>
<use href="#pl" x="265.5" y="400.5"/>
<use href="#pl" x="268.5" y="401.5"/>
<use href="#pl" x="298.5" y="398.5"/>
<use href="#pl" x="279.5" y="401.5"/>
<use href="#pl" x="230.5" y="405.5"/>
<use href="#pl" x="311.5" y="400.5"/>
<use href="#pl" x="242.5" y="400.5"/>
<use href="#pl" x="304.5" y="400.5"/>
<use href="#pl" x="274.5" y="400.5"/>
<use href="#pl" x="274.5" y="401.5"/>
<use href="#pl" x="274.5" y="398.5"/>
<use href="#pl" x="258.5" y="401.5"/>
<use href="#pl" x="324.5" y="398.5"/>
<use href="#pl" x="251.5" y="401.5"/>
<use href="#pl" x="275.5" y="404.5"/>
<use href="#pl" x="232.5" y="399.5"/>
<use href="#pl" x="307.5" y="399.5"/>
<use href="#pl" x="297.5" y="401.5"/>
<use href="#pl" x="259.5" y="396.5"/>
<use href="#pl" x="264.5" y="396.5"/>
<use href="#pl" x="229.5" y="404.5"/>
<use href="#pl" x="318.5" y="402.5"/>
<use href="#pl" x="249.5" y="400.5"/>
<use href="#pl" x="320.5" y="398.5"/>
<use href="#pl" x="318.5" y="400.5"/>
<use href="#pl" x="245.5" y="397.5"/>
<use href="#pl" x="303.5" y="401.5"/>
<use href="#pl" x="303.5" y="399.5"/>
<use href="#pl" x="256.5" y="398.5"/>
<use href="#pl" x="237.5" y="402.5"/>
<use href="#pl" x="302.5" y="397.5"/>
<use href="#pl" x="238.5" y="396.5"/>
<use href="#pl" x="284.5" y="402.5"/>
<use href="#pl" x="234.5" y="395.5"/>
<use href="#pl" x="246.5" y="401.5"/>
<use href="#pl" x="241.5" y="399.5"/>
<use href="#pl" x="313.5" y="404.5"/>
<use href="#pl" x="237.5" y="401.5"/>
<use href="#pl" x="256.5" y="402.5"/>
<use href="#pl" x="278.5" y="401.5"/>
<use href="#pl" x="241.5" y="402.5"/>
<use href="#pl" x="328.5" y="400.5"/>
<use href="#pl" x="326.5" y="399.5"/>
<use href="#pl" x="231.5" y="394.5"/>
<use href="#pl" x="308.5" y="405.5"/>
<use href="#pl" x="301.5" y="399.5"/>
<use href="#pl" x="290.5" y="401.5"/>
<use href="#pl" x="231.5" y="401.5"/>
<use href="#pl" x="223.5" y="403.5"/>
<use href="#pl" x="264.5" y="401.5"/>
<use href="#pl" x="275.5" y="396.5"/>
<use href="#pl" x="290.5" y="399.5"/>
<use href="#pl" x="287.5" y="400.5"/>
<use href="#pl" x="264.5" y="400.5"/>
<use href="#pl" x="267.5" y="394.5"/>
<use href="#pl" x="283.5" y="400.5"/>
<use href="#pl" x="245.5" y="397.5"/>
<use href="#pl" x="300.5" y="404.5"/>
<use href="#pl" x="297.5" y="397.5"/>
<use href="#pl" x="314.5" y="398.5"/>
<use href="#pl" x="270.5" y="397.5"/>
<use href="#pl" x="254.5" y="399.5"/>
<use href="#pl" x="266.5" y="399.5"/>
<use href="#pl" x="306.5" y="399.5"/>
<use href="#pl" x="247.5" y="396.5"/>
<use href="#pl" x="267.5" y="397.5"/>
<use href="#pl" x="265.5" y="401.5"/>
<use href="#pl" x="295.5" y="402.5"/>
<use href="#pl" x="292.5" y="399.5"/>
<use href="#pl" x="306.5" y="398.5"/>
<use href="#pl" x="328.5" y="402.5"/>
<use href="#pl" x="224.5" y="399.5"/>
<use href="#pl" x="306.5" y="400.5"/>
<use href="#pl" x="324.5" y="399.5"/>
<use href="#pl" x="283.5" y="400.5"/>
<use href="#pl" x="280.5" y="399.5"/>
<use href="#pl" x="291.5" y="397.5"/>
<use href="#pl" x="312.5" y="397.5"/>
<use href="#pl" x="325.5" y="400.5"/>
<use href="#pl" x="243.5" y="399.5"/>
<use href="#pl" x="304.5" y="398.5"/>
<use href="#pl" x="233.5" y="403.5"/>
<use href="#pl" x="226.5" y="400.5"/>
<use href="#pl" x="250.5" y="400.5"/>
<use href="#pl" x="266.5" y="400.5"/>
<use href="#pl" x="266.5" y="399.5"/>
<use href="#pl" x="249.5" y="398.5"/>
<use href="#pl" x="244.5" y="400.5"/>
<use href="#pl" x="278.5" y="394.5"/>
<use href="#pl" x="244.5" y="401.5"/>
<use href="#pl" x="243.5" y="398.5"/>
<use href="#pl" x="234.5" y="401.5"/>
<use href="#pl" x="290.5" y="395.5"/>
<use href="#pl" x="272.5" y="398.5"/>
<use href="#pl" x="327.5" y="399.5"/>
<use href="#pl" x="259.5" y="397.5"/>
<use href="#pl" x="310.5" y="396.5"/>
<use href="#pl" x="272.5" y="399.5"/>
<use href="#pl" x="233.5" y="403.5"/>
<use href="#pl" x="312.5" y="397.5"/>
<use href="#pl" x="249.5" y="404.5"/>
<use href="#pl" x="261.5" y="400.5"/>
<use href="#pl" x="240.5" y="403.5"/>
<use href="#pl" x="220.5" y="400.5"/>
<use href="#pl" x="247.5" y="398.5"/>
<use href="#pl" x="253.5" y="397.5"/>
<use href="#pl" x="290.5" y="401.5"/>
<use href="#pl" x="293.5" y="396.5"/>
<use href="#pl" x="314.5" y="405.5"/>
<use href="#pl" x="226.5" y="403.5"/>
<use href="#pl" x="307.5" y="395.5"/>
<use href="#pl" x="235.5" y="402.5"/>
<use href="#pl" x="221.5" y="397.5"/>
<use href="#pl" x="221.5" y="404.5"/>
<use href="#pl" x="247.5" y="399.5"/>
<use href="#pl" x="231.5" y="401.5"/>
<use href="#pl" x="306.5" y="402.5"/>
<use href="#pl" x="258.5" y="404.5"/>
<use href="#pl" x="307.5" y="405.5"/>
<use href="#pl" x="238.5" y="403.5"/>
<use href="#pl" x="306.5" y="398.5"/>
<use href="#pl" x="294.5" y="404.5"/>
<use href="#pl" x="313.5" y="397.5"/>
<use href="#pl" x="241.5" y="399.5"/>
<use href="#pl" x="302.5" y="397.5"/>
<use href="#pl" x="268.5" y="403.5"/>
<use href="#pl" x="249.5" y="398.5"/>
<use href="#pl" x="246.5" y="402.5"/>
<use href="#pl" x="226.5" y="403.5"/>
<use href="#pl" x="271.5" y="402.5"/>
<use href="#pl" x="275.5" y="403.5"/>
<use href="#pl" x="279.5" y="400.5"/>
<use href="#pl" x="313.5" y="400.5"/>
<use href="#pl" x="271.5" y="396.5"/>
<use href="#pl" x="313.5" y="399.5"/>
<use href="#pl" x="261.5" y="394.5"/>
<use href="#pl" x="228.5" y="404.5"/>
<use href="#pl" x="290.5" y="400.5"/>
<use href="#pl" x="287.5" y="400.5"/>
<use href="#pl" x="295.5" y="402.5"/>
<use href="#pl" x="329.5" y="399.5"/>
<use href="#pl" x="276.5" y="394.5"/>
<use href="#pl" x="223.5" y="401.5"/>
<use href="#pl" x="299.5" y="398.5"/>
<use href="#pl" x="315.5" y="398.5"/>
<use href="#pl" x="260.5" y="397.5"/>
<use href="#pl" x="305.5" y="401.5"/>
<use href="#pl" x="243.5" y="398.5"/>
<use href="#pl" x="281.5" y="401.5"/>
<use href="#pl" x="311.5" y="399.5"/>
<use href="#pl" x="264.5" y="405.5"/>
<use href="#pl" x="275.5" y="400.5"/>
<use href="#pl" x="328.5" y="403.5"/>
<use href="#pl" x="292.5" y="401.5"/>
<use href="#pl" x="255.5" y="398.5"/>
<use href="#pl" x="253.5" y="397.5"/>
<use href="#pl" x="307.5" y="398.5"/>
<use href="#pl" x="224.5" y="399.5"/>
<use href="#pl" x="280.5" y="395.5"/>
<use href="#pl" x="225.5" y="400.5"/>
<use href="#pl" x="241.5" y="400.5"/>
<use href="#pl" x="322.5" y="397.5"/>
<use href="#pl" x="307.5" y="398.5"/>
<use href="#pl" x="321.5" y="397.5"/>
<use href="#pl" x="289.5" y="398.5"/>
<use href="#pl" x="297.5" y="397.5"/>
<use href="#pl" x="243.5" y="398.5"/>
<use href="#pl" x="294.5" y="396.5"/>
<use href="#pl" x="231.5" y="401.5"/>
<use href="#pl" x="240.5" y="405.5"/>
<use href="#pl" x="321.5" y="401.5"/>
<use href="#pl" x="292.5" y="397.5"/>
<use href="#pl" x="307.5" y="404.5"/>
<use href="#pl" x="282.5" y="400.5"/>
<use href="#pl" x="266.5" y="402.5"/>
<use href="#pl" x="255.5" y="397.5"/>
<use href="#pl" x="323.5" y="402.5"/>
<use href="#pl" x="226.5" y="399.5"/>
<use href="#pl" x="233.5" y="400.5"/>
<use href="#pl" x="309.5" y="395.5"/>
<use href="#pl" x="269.5" y="397.5"/>
<use href="#pl" x="221.5" y="397.5"/>
<use href="#pl" x="324.5" y="403.5"/>
<use href="#pl" x="328.5" y="397.5"/>
<use href="#pl" x="231.5" y="401.5"/>
<use href="#pl" x="291.5" y="401.5"/>
<use href="#pl" x="221.5" y="402.5"/>
<use href="#pl" x="220.5" y="400.5"/>
<use href="#pl" x="327.5" y="399.5"/>
<use href="#pl" x="229.5" y="401.5"/>
<use href="#pl" x="222.5" y="399.5"/>
<use href="#pl" x="299.5" y="400.5"/>
<use href="#pl" x="240.5" y="405.5"/>
<use href="#pl" x="225.5" y="401.5"/>
<use href="#pl" x="315.5" y="396.5"/>
<use href="#pl" x="301.5" y="403.5"/>
<use href="#pl" x="298.5" y="402.5"/>
<use href="#pl" x="271.5" y="402.5"/>
<use href="#pl" x="327.5" y="399.5"/>
<use href="#pl" x="299.5" y="401.5"/>
<use href="#pl" x="292.5" y="400.5"/>
<use href="#pl" x="310.5" y="402.5"/>
<use href="#pl" x="301.5" y="401.5"/>
<use href="#pl" x="238.5" y="402.5"/>
<use href="#pl" x="226.5" y="398.5"/>
<use href="#pl" x="260.5" y="398.5"/>
<use href="#pl" x="295.5" y="399.5"/>
<use href="#pl" x="236.5" y="401.5"/>
<use href="#pl" x="291.5" y="398.5"/>
<use href="#pl" x="289.5" y="398.5"/>
<use href="#pl" x="307.5" y="401.5"/>
<use href="#pl" x="324.5" y="401.5"/>
<use href="#pl" x="252.5" y="397.5"/>
<use href="#pl" x="226.5" y="404.5"/>
<use href="#pl" x="311.5" y="399.5"/>
<use href="#pl" x="256.5" y="394.5"/>
<use href="#pl" x="312.5" y="396.5"/>
<use href="#pl" x="286.5" y="399.5"/>
<use href="#pl" x="318.5" y="403.5"/>
<use href="#pl" x="261.5" y="399.5"/>
<use href="#pl" x="319.5" y="397.5"/>
<use href="#pl" x="309.5" y="400.5"/>
<use href="#pl" x="249.5" y="400.5"/>
<use href="#pl" x="266.5" y="396.5"/>
<use href="#pl" x="318.5" y="398.5"/>
<use href="#pl" x="224.5" y="403.5"/>
<use href="#pl" x="316.5" y="396.5"/>
<use href="#pl" x="283.5" y="399.5"/>
<use href="#pl" x="309.5" y="405.5"/>
<use href="#pl" x="296.5" y="402.5"/>
<use href="#pl" x="229.5" y="399.5"/>
<use href="#pl" x="281.5" y="401.5"/>
<use href="#pl" x="303.5" y="398.5"/>
<use href="#pl" x="323.5" y="401.5"/>
<use href="#pl" x="295.5" y="404.5"/>
<use href="#pl" x="271.5" y="401.5"/>
<use href="#pl" x="303.5" y="402.5"/>
<use href="#pl" x="307.5" y="399.5"/>
<use href="#pl" x="309.5" y="400.5"/>
<use href="#pl" x="305.5" y="401.5"/>
<use href="#pl" x="319.5" y="404.5"/>
<use href="#pl" x="318.5" y="397.5"/>
<use href="#pl" x="285.5" y="400.5"/>
<use href="#pl" x="241.5" y="401.5"/>
<use href="#pl" x="297.5" y="402.5"/>
<use href="#pl" x="260.5" y="398.5"/>
<use href="#pl" x="277.5" y="399.5"/>
<use href="#pl" x="236.5" y="409.5"/>
<use href="#pl" x="261.5" y="403.5"/>
<use href="#pl" x="231.5" y="397.5"/>
<use href="#pl" x="237.5" y="397.5"/>
<use href="#pl" x="286.5" y="398.5"/>
<use href="#pl" x="222.5" y="403.5"/>
<use href="#pl" x="223.5" y="406.5"/>
<use href="#pl" x="274.5" y="400.5"/>
<use href="#pl" x="283.5" y="400.5"/>
<use href="#pl" x="267.5" y="405.5"/>
<use href="#pl" x="325.5" y="401.5"/>
<use href="#pl" x="326.5" y="395.5"/>
<use href="#pl" x="248.5" y="402.5"/>
<use href="#pl" x="240.5" y="401.5"/>
<use href="#pl" x="229.5" y="403.5"/>
<use href="#pl" x="316.5" y="401.5"/>
<use href="#pl" x="270.5" y="406.5"/>
<use href="#pl" x="227.5" y="398.5"/>
<use href="#pl" x="286.5" y="399.5"/>
<use href="#pl" x="326.5" y="401.5"/>
<use href="#pl" x="248.5" y="397.5"/>
<use href="#pl" x="326.5" y="399.5"/>
<use href="#pl" x="294.5" y="398.5"/>
<use href="#pl" x="237.5" y="402.5"/>
<use href="#pl" x="327.5" y="402.5"/>
<use href="#pl" x="224.5" y="400.5"/>
<use href="#pl" x="248.5" y="397.5"/>
<use href="#pl" x="320.5" y="405.5"/>
<use href="#pl" x="312.5" y="405.5"/>
<use href="#pl" x="298.5" y="402.5"/>
<use href="#pl" x="291.5" y="401.5"/>
<use href="#pl" x="236.5" y="400.5"/>
<use href="#pl" x="303.5" y="404.5"/>
<use href="#pl" x="253.5" y="399.5"/>
<use href="#pl" x="285.5" y="400.5"/>
<use href="#pl" x="256.5" y="399.5"/>
</g>
<g stroke="#0000ff" stroke-width="0.75" fill="none">
<use href="#xm" x="185.5" y="278.5"/>
</g>
<g stroke="#000" stroke-width="0.69" fill="#bf00bf">
<circle cx="192.6" cy="399.1" r="4.17"/>
<circle cx="199.9" cy="399.0" r="4.17"/>
<circle cx="192.0" cy="399.2" r="4.17"/>
<circle cx="206.3" cy="398.0" r="4.17"/>
<circle cx="207.6" cy="398.8" r="4.17"/>
<circle cx="185.4" cy="403.2" r="4.17"/>
<circle cx="191.4" cy="403.0" r="4.17"/>
<circle cx="212.5" cy="401.9" r="4.17"/>
<circle cx="188.8" cy="400.8" r="4.17"/>
<circle cx="187.4" cy="403.1" r="4.17"/>
<circle cx="211.7" cy="400.7" r="4.17"/>
<circle cx="198.9" cy="399.8" r="4.17"/>
<circle cx="211.0" cy="400.0" r="4.17"/>
<circle cx="204.7" cy="398.7" r="4.17"/>
<circle cx="191.4" cy="398.8" r="4.17"/>
<circle cx="207.5" cy="400.5" r="4.17"/>
<circle cx="188.9" cy="402.8" r="4.17"/>
<circle cx="192.9" cy="400.4" r="4.17"/>
<circle cx="189.3" cy="399.9" r="4.17"/>
<circle cx="211.6" cy="399.3" r="4.17"/>
<circle cx="189.7" cy="400.9" r="4.17"/>
<circle cx="194.6" cy="402.7" r="4.17"/>
<circle cx="187.9" cy="403.3" r="4.17"/>
<circle cx="186.1" cy="403.0" r="4.17"/>
<circle cx="206.0" cy="398.9" r="4.17"/>
<circle cx="199.8" cy="399.5" r="4.17"/>
<circle cx="192.6" cy="399.4" r="4.17"/>
<circle cx="196.1" cy="403.1" r="4.17"/>
<circle cx="216.7" cy="401.9" r="4.17"/>
<circle cx="187.4" cy="400.1" r="4.17"/>
<circle cx="213.4" cy="397.9" r="4.17"/>
<circle cx="207.9" cy="399.3" r="4.17"/>
<circle cx="216.1" cy="397.6" r="4.17"/>
<circle cx="210.5" cy="399.4" r="4.17"/>
<circle cx="188.8" cy="398.6" r="4.17"/>
<circle cx="211.3" cy="400.2" r="4.17"/>
<circle cx="190.3" cy="400.6" r="4.17"/>
<circle cx="213.9" cy="398.7" r="4.17"/>
<circle cx="202.8" cy="398.7" r="4.17"/>
<circle cx="190.1" cy="402.3" r="4.17"/>
<circle cx="207.4" cy="398.8" r="4.17"/>
<circle cx="186.8" cy="399.1" r="4.17"/>
<circle cx="204.0" cy="400.4" r="4.17"/>
<circle cx="193.1" cy="399.4" r="4.17"/>
<circle cx="204.2" cy="401.4" r="4.17"/>
<circle cx="210.7" cy="400.5" r="4.17"/>
<circle cx="190.8" cy="398.8" r="4.17"/>
<circle cx="208.1" cy="399.8" r="4.17"/>
<circle cx="207.7" cy="398.1" r="4.17"/>
<circle cx="210.6" cy="399.3" r="4.17"/>
</g>
<line x1="100.00" y1="401.28" x2="382.50" y2="401.28" stroke="#0000ff" stroke-width="1.39" stroke-dasharray="8.33 8.33"/>
<line x1="100.00" y1="400.60" x2="382.50" y2="400.60" stroke="#ff0000" stroke-width="1.39" stroke-dasharray="8.33 8.33"/>
<line x1="100.00" y1="397.40" x2="382.50" y2="397.40" stroke="#0000ff" stroke-width="1.39" stroke-dasharray="4.17 6.94 1.39 6.94"/>
<line x1="100.00" y1="404.50" x2="382.50" y2="404.50" stroke="#0000ff" stroke-width="1.39" stroke-dasharray="4.17 6.94 1.39 6.94"/>
</g>
<g stroke="#000" stroke-width="0.69">
<line x1="138.5" y1="540" x2="138.5" y2="534.44"/>
<line x1="175.5" y1="540" x2="175.5" y2="534.44"/>
<line x1="213.5" y1="540" x2="213.5" y2="534.44"/>
<line x1="250.5" y1="540" x2="250.5" y2="534.44"/>
<line x1="288.5" y1="540" x2="288.5" y2="534.44"/>
<line x1="325.5" y1="540" x2="325.5" y2="534.44"/>
<line x1="363.5" y1="540" x2="363.5" y2="534.44"/>
<line x1="119.5" y1="61" x2="119.5" y2="66.56"/>
<line x1="156.5" y1="61" x2="156.5" y2="66.56"/>
<line x1="194.5" y1="61" x2="194.5" y2="66.56"/>
<line x1="232.5" y1="61" x2="232.5" y2="66.56"/>
<line x1="269.5" y1="61" x2="269.5" y2="66.56"/>
<line x1="307.5" y1="61" x2="307.5" y2="66.56"/>
<line x1="344.5" y1="61" x2="344.5" y2="66.56"/>
<line x1="100" y1="420.5" x2="105.56" y2="420.5"/>
<line x1="382.5" y1="420.5" x2="376.94" y2="420.5"/>
<line x1="100" y1="300.5" x2="105.56" y2="300.5"/>
<line x1="382.5" y1="300.5" x2="376.94" y2="300.5"/>
<line x1="100" y1="180.5" x2="105.56" y2="180.5"/>
<line x1="382.5" y1="180.5" x2="376.94" y2="180.5"/>
<line x1="485.5" y1="540" x2="485.5" y2="534.44"/>
<line x1="485.5" y1="61" x2="485.5" y2="66.56"/>
<line x1="532.5" y1="540" x2="532.5" y2="534.44"/>
<line x1="532.5" y1="61" x2="532.5" y2="66.56"/>
<line x1="579.5" y1="540" x2="579.5" y2="534.44"/>
<line x1="579.5" y1="61" x2="579.5" y2="66.56"/>
<line x1="626.5" y1="540" x2="626.5" y2="534.44"/>
<line x1="626.5" y1="61" x2="626.5" y2="66.56"/>
<line x1="673.5" y1="540" x2="673.5" y2="534.44"/>
<line x1="673.5" y1="61" x2="673.5" y2="66.56"/>
<line x1="438" y1="480.5" x2="443.56" y2="480.5"/>
<line x1="720.5" y1="480.5" x2="714.94" y2="480.5"/>
<line x1="438" y1="420.5" x2="443.56" y2="420.5"/>
<line x1="720.5" y1="420.5" x2="714.94" y2="420.5"/>
<line x1="438" y1="360.5" x2="443.56" y2="360.5"/>
<line x1="720.5" y1="360.5" x2="714.94" y2="360.5"/>
<line x1="438" y1="300.5" x2="443.56" y2="300.5"/>
<line x1="720.5" y1="300.5" x2="714.94" y2="300.5"/>
<line x1="438" y1="240.5" x2="443.56" y2="240.5"/>
<line x1="720.5" y1="240.5" x2="714.94" y2="240.5"/>
<line x1="438" y1="180.5" x2="443.56" y2="180.5"/>
<line x1="720.5" y1="180.5" x2="714.94" y2="180.5"/>
<line x1="438" y1="120.5" x2="443.56" y2="120.5"/>
<line x1="720.5" y1="120.5" x2="714.94" y2="120.5"/>
</g>
<rect x="100.5" y="60.5" width="282" height="480" fill="none" stroke="#000" stroke-width="1.39"/>
<rect x="438.5" y="271.2" width="214.20" height="65.20" fill="#0000ff" stroke="#000" stroke-width="1.39"/>
<rect x="438.5" y="207.7" width="27.90" height="63.50" fill="#0000ff" stroke="#000" stroke-width="1.39"/>
<line x1="438.20" y1="306.40" x2="696.60" y2="306.40" stroke="#000" stroke-width="1.39" stroke-dasharray="8.33 8.33"/>
<rect x="438.5" y="60.5" width="282" height="480" fill="none" stroke="#000" stroke-width="1.39"/>
<g font-family="Liberation Sans, sans-serif" fill="#000">
<text x="100.00" y="560.00" font-size="17.67" text-anchor="middle" textLength="35.17" lengthAdjust="spacingAndGlyphs">−20</text>
<text x="137.58" y="560.00" font-size="17.67" text-anchor="middle" textLength="35.17" lengthAdjust="spacingAndGlyphs">−18</text>
<text x="175.15" y="560.00" font-size="17.67" text-anchor="middle" textLength="35.17" lengthAdjust="spacingAndGlyphs">−16</text>
<text x="212.73" y="560.00" font-size="17.67" text-anchor="middle" textLength="35.17" lengthAdjust="spacingAndGlyphs">−14</text>
<text x="250.30" y="560.00" font-size="17.67" text-anchor="middle" textLength="35.17" lengthAdjust="spacingAndGlyphs">−12</text>
<text x="287.88" y="560.00" font-size="17.67" text-anchor="middle" textLength="35.17" lengthAdjust="spacingAndGlyphs">−10</text>
<text x="325.45" y="560.00" font-size="17.67" text-anchor="middle" textLength="24.57" lengthAdjust="spacingAndGlyphs">−8</text>
<text x="363.03" y="560.00" font-size="17.67" text-anchor="middle" textLength="24.57" lengthAdjust="spacingAndGlyphs">−6</text>
<text x="118.79" y="50.40" font-size="17.67" text-anchor="middle" textLength="21.21" lengthAdjust="spacingAndGlyphs">14</text>
<text x="156.36" y="50.40" font-size="17.67" text-anchor="middle" textLength="21.21" lengthAdjust="spacingAndGlyphs">16</text>
<text x="193.94" y="50.40" font-size="17.67" text-anchor="middle" textLength="21.21" lengthAdjust="spacingAndGlyphs">18</text>
<text x="231.52" y="50.40" font-size="17.67" text-anchor="middle" textLength="21.21" lengthAdjust="spacingAndGlyphs">20</text>
<text x="269.09" y="50.40" font-size="17.67" text-anchor="middle" textLength="21.21" lengthAdjust="spacingAndGlyphs">22</text>
<text x="306.67" y="50.40" font-size="17.67" text-anchor="middle" textLength="21.21" lengthAdjust="spacingAndGlyphs">24</text>
<text x="344.24" y="50.40" font-size="17.67" text-anchor="middle" textLength="21.21" lengthAdjust="spacingAndGlyphs">26</text>
<text x="381.82" y="50.40" font-size="17.67" text-anchor="middle" textLength="21.21" lengthAdjust="spacingAndGlyphs">28</text>
<text x="94.44" y="545.00" font-size="17.67" text-anchor="end" textLength="10.60" lengthAdjust="spacingAndGlyphs">0</text>
<text x="94.44" y="425.00" font-size="17.67" text-anchor="end" textLength="10.60" lengthAdjust="spacingAndGlyphs">5</text>
<text x="94.44" y="305.00" font-size="17.67" text-anchor="end" textLength="21.21" lengthAdjust="spacingAndGlyphs">10</text>
<text x="94.44" y="185.00" font-size="17.67" text-anchor="end" textLength="21.21" lengthAdjust="spacingAndGlyphs">15</text>
<text x="94.44" y="65.00" font-size="17.67" text-anchor="end" textLength="21.21" lengthAdjust="spacingAndGlyphs">20</text>
<text x="432.60" y="545.00" font-size="17.67" text-anchor="end" textLength="26.51" lengthAdjust="spacingAndGlyphs">5.0</text>
<text x="432.60" y="485.00" font-size="17.67" text-anchor="end" textLength="26.51" lengthAdjust="spacingAndGlyphs">5.2</text>
<text x="432.60" y="425.00" font-size="17.67" text-anchor="end" textLength="26.51" lengthAdjust="spacingAndGlyphs">5.4</text>
<text x="432.60" y="365.00" font-size="17.67" text-anchor="end" textLength="26.51" lengthAdjust="spacingAndGlyphs">5.6</text>
<text x="432.60" y="305.00" font-size="17.67" text-anchor="end" textLength="26.51" lengthAdjust="spacingAndGlyphs">5.8</text>
<text x="432.60" y="245.00" font-size="17.67" text-anchor="end" textLength="26.51" lengthAdjust="spacingAndGlyphs">6.0</text>
<text x="432.60" y="185.00" font-size="17.67" text-anchor="end" textLength="26.51" lengthAdjust="spacingAndGlyphs">6.2</text>
<text x="432.60" y="125.00" font-size="17.67" text-anchor="end" textLength="26.51" lengthAdjust="spacingAndGlyphs">6.4</text>
<text x="432.60" y="65.00" font-size="17.67" text-anchor="end" textLength="26.51" lengthAdjust="spacingAndGlyphs">6.6</text>
<text x="438.18" y="560.00" font-size="17.67" text-anchor="middle" textLength="10.60" lengthAdjust="spacingAndGlyphs">0</text>
<text x="485.15" y="560.00" font-size="17.67" text-anchor="middle" textLength="21.21" lengthAdjust="spacingAndGlyphs">20</text>
<text x="532.12" y="560.00" font-size="17.67" text-anchor="middle" textLength="21.21" lengthAdjust="spacingAndGlyphs">40</text>
<text x="579.09" y="560.00" font-size="17.67" text-anchor="middle" textLength="21.21" lengthAdjust="spacingAndGlyphs">60</text>
<text x="626.06" y="560.00" font-size="17.67" text-anchor="middle" textLength="21.21" lengthAdjust="spacingAndGlyphs">80</text>
<text x="673.03" y="560.00" font-size="17.67" text-anchor="middle" textLength="31.81" lengthAdjust="spacingAndGlyphs">100</text>
<text x="720.00" y="560.00" font-size="17.67" text-anchor="middle" textLength="31.81" lengthAdjust="spacingAndGlyphs">120</text>
<text x="118.00" y="29.00" font-size="21.20" text-anchor="start" textLength="216.45" lengthAdjust="spacingAndGlyphs">FWHM vs magnitudes</text>
<text x="480.20" y="53.00" font-size="21.20" text-anchor="start" textLength="198.57" lengthAdjust="spacingAndGlyphs">histogram of FWHM</text>
<text x="95.90" y="584.00" font-size="17.67" text-anchor="start" textLength="292.12" lengthAdjust="spacingAndGlyphs">magnitude (bottom:isnt / top:calib)</text>
<text x="501.80" y="584.00" font-size="17.67" text-anchor="start" textLength="153.94" lengthAdjust="spacingAndGlyphs">number of sources</text>
<text x="64.00" y="347.50" font-size="17.67" text-anchor="start" textLength="96.07" lengthAdjust="spacingAndGlyphs" transform="rotate(-90 64.00 347.50)">FWHM (pix)</text>
<text x="396.00" y="452.70" font-size="17.67" text-anchor="start" textLength="304.46" lengthAdjust="spacingAndGlyphs" transform="rotate(-90 396.00 452.70)">FWHM of best-effort PSF-like sources</text>
</g>
<rect x="27.5" y="70.5" width="345.0" height="180.0" fill="#fff" stroke="#000" stroke-width="1.39"/>
<use href="#pl" x="41.4" y="86.5" stroke="#00bfbf" stroke-width="0.8"/>
<use href="#xm" x="41.4" y="115.5" stroke="#0000ff" stroke-width="0.8"/>
<circle cx="41.4" cy="144.5" r="4.17" fill="#bf00bf" stroke="#000" stroke-width="0.69"/>
<use href="#pl" x="69.4" y="86.5" stroke="#00bfbf" stroke-width="0.8"/>
<use href="#xm" x="69.4" y="115.5" stroke="#0000ff" stroke-width="0.8"/>
<circle cx="69.4" cy="144.5" r="4.17" fill="#bf00bf" stroke="#000" stroke-width="0.69"/>
<line x1="41.40" y1="173.50" x2="69.40" y2="173.50" stroke="#0000ff" stroke-width="1.39" stroke-dasharray="8.33 8.33"/>
<line x1="41.40" y1="202.50" x2="69.40" y2="202.50" stroke="#ff0000" stroke-width="1.39" stroke-dasharray="8.33 8.33"/>
<line x1="41.40" y1="231.50" x2="69.40" y2="231.50" stroke="#0000ff" stroke-width="1.39" stroke-dasharray="4.17 6.94 1.39 6.94"/>
<g font-family="Liberation Sans, sans-serif" fill="#000">
<text x="90.80" y="92.80" font-size="21.20" text-anchor="start" textLength="102.05" lengthAdjust="spacingAndGlyphs">all sample</text>
<text x="90.80" y="121.80" font-size="21.20" text-anchor="start" textLength="242.55" lengthAdjust="spacingAndGlyphs">sample for rough FWHM</text>
<text x="90.90" y="150.80" font-size="21.20" text-anchor="start" textLength="269.37" lengthAdjust="spacingAndGlyphs">best-effort PSF-like sample</text>
<text x="91.00" y="179.80" font-size="21.20" text-anchor="start" textLength="217.12" lengthAdjust="spacingAndGlyphs">resultant FWHM: 5.78</text>
<text x="90.80" y="208.80" font-size="21.20" text-anchor="start" textLength="274.49" lengthAdjust="spacingAndGlyphs">median FHWM of sequence</text>
<text x="90.80" y="237.80" font-size="21.20" text-anchor="start" textLength="125.74" lengthAdjust="spacingAndGlyphs">sigma range</text>
</g></svg></body></html>
